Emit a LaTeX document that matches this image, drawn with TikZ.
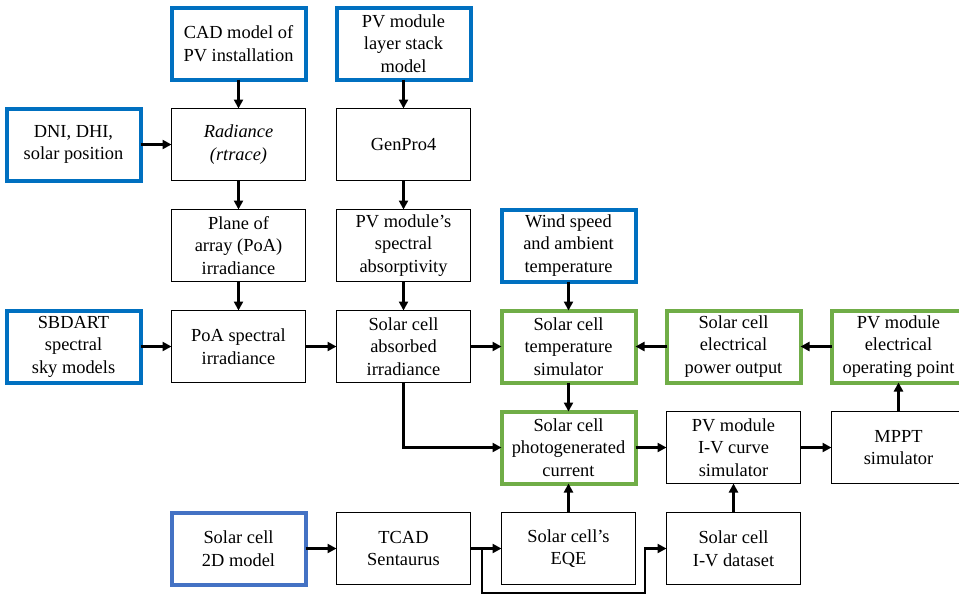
\documentclass[tikz,border=0pt]{standalone}
\usepackage{fontspec}
\setmainfont{Liberation Serif}
\usetikzlibrary{arrows.meta,positioning}
\definecolor{inblue}{HTML}{0070C0}
\definecolor{cellblue}{HTML}{4472C4}
\definecolor{loopgreen}{HTML}{70AD47}
\tikzset{
    simbox/.style={draw, align=center, font=\fontsize{9.2}{11.3}\selectfont,
        minimum width=67pt, minimum height=36pt, line width=0.6pt,
        inner sep=1pt, outer sep=0pt},
    inbox/.style={simbox, draw=inblue, line width=2pt},
    loopbox/.style={simbox, draw=loopgreen, line width=2pt},
    simarrow/.style={-{Triangle[length=4.5pt, width=4.5pt]}, line width=1.1pt}
}

\begin{document}
\begin{tikzpicture}[node distance=14.5pt and 15.5pt]
\useasboundingbox (0,0) rectangle (479.5pt,-298pt);
\clip (0,0) rectangle (479.5pt,-298pt);
% inputs and ray tracing
\node[inbox] (cad) at (119.25pt,-21.75pt) {CAD model of\\PV installation};
\node[inbox, right=of cad] (stack) {PV module\\layer stack\\model};
\node[simbox, below=of cad] (radiance) {\textit{Radiance}\\\textit{(rtrace)}};
\node[inbox, left=of radiance] (dni) {DNI, DHI,\\solar position};
\node[simbox, below=of stack] (genpro) {GenPro4};
\node[simbox, below=of radiance] (poa) {Plane of\\array (PoA)\\irradiance};
\node[simbox, below=of genpro] (absorpt) {PV module’s\\spectral\\absorptivity};
\node[inbox, right=of absorpt] (wind) {Wind speed\\and ambient\\temperature};
\node[simbox, below=of poa] (poaspec) {PoA spectral\\irradiance};
\node[inbox, left=of poaspec] (sbdart) {SBDART\\spectral\\sky models};
\node[simbox, below=of absorpt] (absorbed) {Solar cell\\absorbed\\irradiance};
% thermal-electrical loop
\node[loopbox, below=of wind] (tempsim) {Solar cell\\temperature\\simulator};
\node[loopbox, right=of tempsim] (power) {Solar cell\\electrical\\power output};
\node[loopbox, right=of power] (oppoint) {PV module\\electrical\\operating point};
\node[loopbox, below=of tempsim] (photocur) {Solar cell\\photogenerated\\current};
\node[simbox, right=of photocur] (ivsim) {PV module\\I-V curve\\simulator};
\node[simbox, right=of ivsim] (mppt) {MPPT\\simulator};
% device simulation
\node[simbox, below=of photocur] (eqe) {Solar cell’s\\EQE};
\node[simbox, left=of eqe] (tcad) {TCAD\\Sentaurus};
\node[inbox, draw=cellblue, left=of tcad] (model2d) {Solar cell\\2D model};
\node[simbox, below=of ivsim] (ivdata) {Solar cell\\I-V dataset};
\coordinate[right=5.75pt of tcad.east] (split);
\coordinate[below=22.25pt of split] (splitlow);
\coordinate[left=10.75pt of ivdata.west] (ivin);

\draw[simarrow] (cad) -- (radiance);
\draw[simarrow] (dni) -- (radiance);
\draw[simarrow] (radiance) -- (poa);
\draw[simarrow] (poa) -- (poaspec);
\draw[simarrow] (stack) -- (genpro);
\draw[simarrow] (genpro) -- (absorpt);
\draw[simarrow] (absorpt) -- (absorbed);
\draw[simarrow] (sbdart) -- (poaspec);
\draw[simarrow] (poaspec) -- (absorbed);
\draw[simarrow] (absorbed) -- (tempsim);
\draw[simarrow] (absorbed) |- (photocur);
\draw[simarrow] (wind) -- (tempsim);
\draw[simarrow] (power) -- (tempsim);
\draw[simarrow] (oppoint) -- (power);
\draw[simarrow] (tempsim) -- (photocur);
\draw[simarrow] (photocur) -- (ivsim);
\draw[simarrow] (ivsim) -- (mppt);
\draw[simarrow] (mppt) -- (oppoint);
\draw[simarrow] (eqe) -- (photocur);
\draw[simarrow] (ivdata) -- (ivsim);
\draw[simarrow] (model2d) -- (tcad);
\draw[simarrow] (tcad) -- (eqe);
\draw[simarrow] (split) -- (splitlow) -| (ivin) -- (ivdata);
\end{tikzpicture}
\end{document}
